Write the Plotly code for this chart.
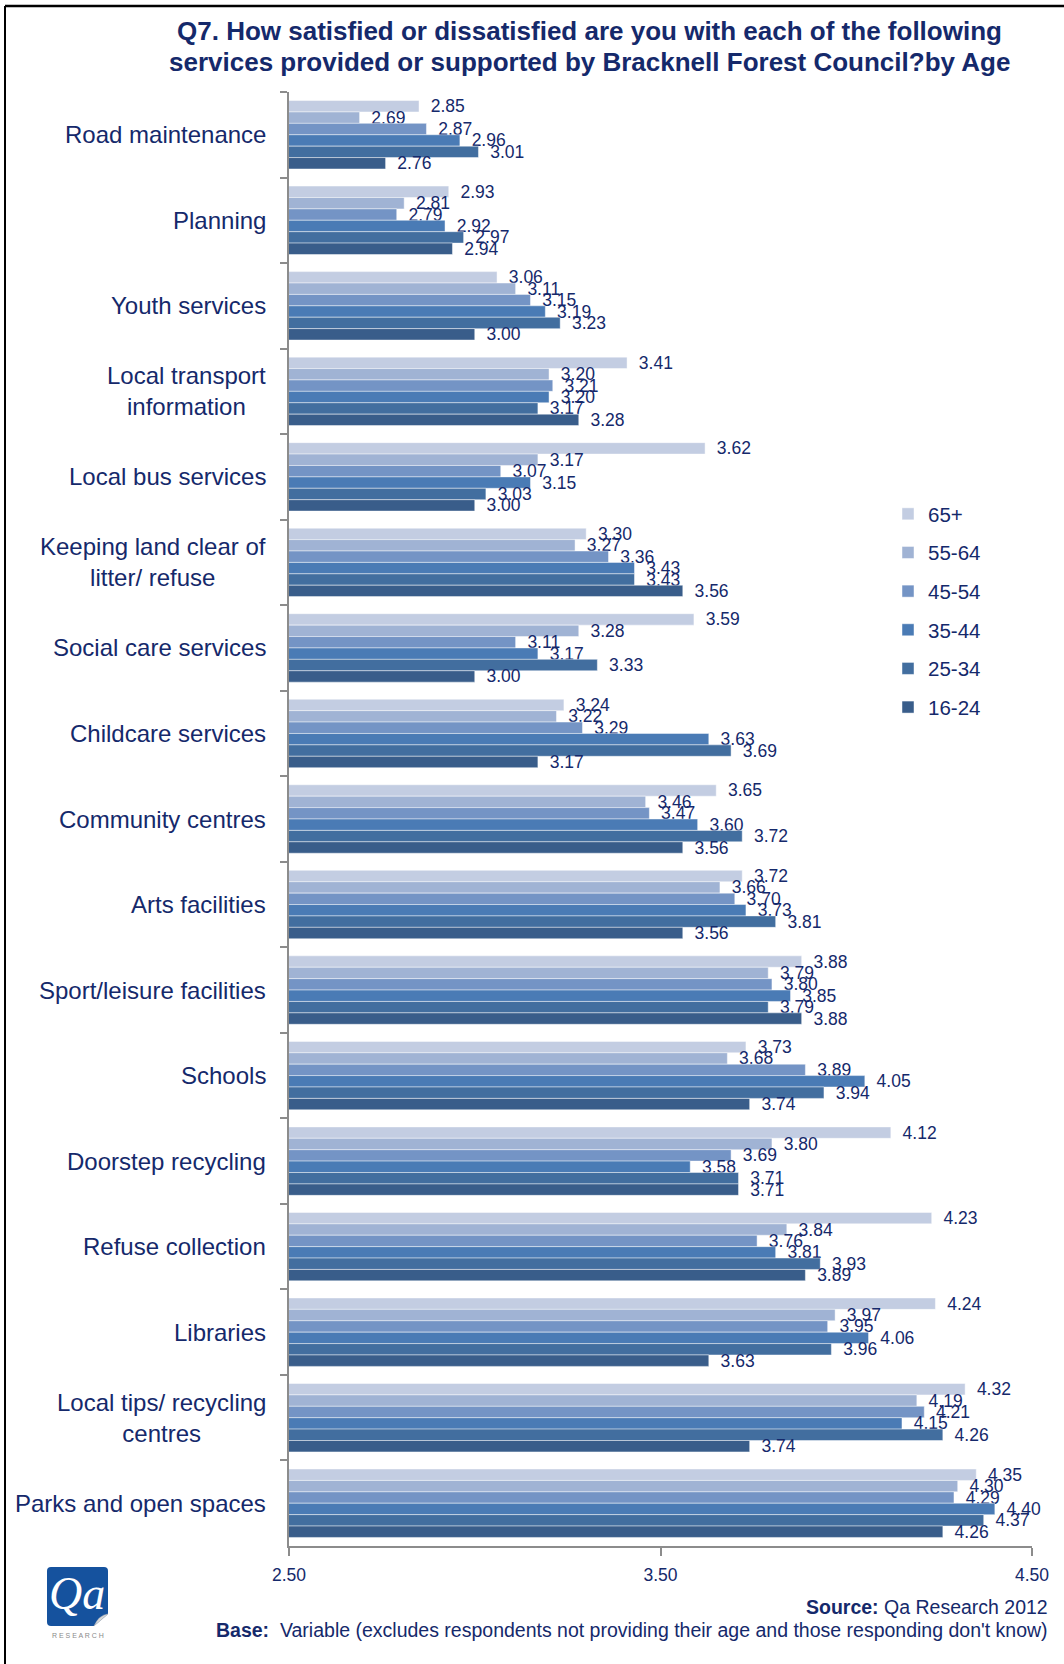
import plotly.graph_objects as go

# Services (top to bottom) and mean satisfaction score by age band
categories = [
    "Road maintenance",
    "Planning",
    "Youth services",
    "Local transport<br>information",
    "Local bus services",
    "Keeping land clear of<br>litter/ refuse",
    "Social care services",
    "Childcare services",
    "Community centres",
    "Arts facilities",
    "Sport/leisure facilities",
    "Schools",
    "Doorstep recycling",
    "Refuse collection",
    "Libraries",
    "Local tips/ recycling<br>centres",
    "Parks and open spaces",
]

age_bands = ["65+", "55-64", "45-54", "35-44", "25-34", "16-24"]

age_65_plus = [2.85, 2.93, 3.06, 3.41, 3.62, 3.30, 3.59, 3.24, 3.65, 3.72, 3.88, 3.73, 4.12, 4.23, 4.24, 4.32, 4.35]
age_55_64 = [2.69, 2.81, 3.11, 3.20, 3.17, 3.27, 3.28, 3.22, 3.46, 3.66, 3.79, 3.68, 3.80, 3.84, 3.97, 4.19, 4.30]
age_45_54 = [2.87, 2.79, 3.15, 3.21, 3.07, 3.36, 3.11, 3.29, 3.47, 3.70, 3.80, 3.89, 3.69, 3.76, 3.95, 4.21, 4.29]
age_35_44 = [2.96, 2.92, 3.19, 3.20, 3.15, 3.43, 3.17, 3.63, 3.60, 3.73, 3.85, 4.05, 3.58, 3.81, 4.06, 4.15, 4.40]
age_25_34 = [3.01, 2.97, 3.23, 3.17, 3.03, 3.43, 3.33, 3.69, 3.72, 3.81, 3.79, 3.94, 3.71, 3.93, 3.96, 4.26, 4.37]
age_16_24 = [2.76, 2.94, 3.00, 3.28, 3.00, 3.56, 3.00, 3.17, 3.56, 3.56, 3.88, 3.74, 3.71, 3.89, 3.63, 3.74, 4.26]

series = [age_65_plus, age_55_64, age_45_54, age_35_44, age_25_34, age_16_24]
colors = ["#C3CDE2", "#A0B3D4", "#7494C5", "#4A7BB5", "#426E9F", "#395D8A"]

x_ticks = [2.5, 3.5, 4.5]
x_tick_text = ["2.50", "3.50", "4.50"]

title_lines = [
    "Q7. How satisfied or dissatisfied are you with each of the following",
    "services provided or supported by Bracknell Forest Council?by Age",
]

NAVY = "#15296B"
SANS = "Liberation Sans, Arial, sans-serif"

W, H = 1064, 1664
ML, MR, MT, MB = 289, 32, 92, 118
X0, X1 = ML, W - MR
Y0, Y1 = MT, H - MB


def paper_x(px):
    return (px - X0) / (X1 - X0)


def paper_y(py):
    return (Y1 - py) / (Y1 - Y0)


fig = go.Figure()
for name, vals, col in zip(age_bands, series, colors):
    fig.add_trace(go.Bar(
        name=name,
        legendgroup=name,
        y=categories,
        x=vals,
        orientation="h",
        marker=dict(color=col, line=dict(color="rgba(255,255,255,0.45)", width=1)),
        text=[f"\u2002{v:.2f}" for v in vals],
        textposition="outside",
        textangle=0,
        constraintext="none",
        cliponaxis=False,
        outsidetextfont=dict(family=SANS, size=17.5, color=NAVY),
    ))

fig.update_layout(
    width=W,
    height=H,
    margin=dict(l=ML, r=MR, t=MT, b=MB, pad=0),
    paper_bgcolor="white",
    plot_bgcolor="white",
    barmode="group",
    bargap=0.2,
    bargroupgap=0,
    showlegend=True,
    legend=dict(
        x=paper_x(888), xanchor="left",
        y=paper_y(494), yanchor="top",
        font=dict(family=SANS, size=20.5, color=NAVY),
        traceorder="grouped",
        tracegroupgap=9,
        itemwidth=30,
        bgcolor="rgba(0,0,0,0)",
    ),
    xaxis=dict(
        range=[2.5, 4.5],
        tickvals=x_ticks,
        ticktext=x_tick_text,
        ticks="outside",
        ticklen=8,
        tickcolor="#8C8C8C",
        tickwidth=1.5,
        showline=True,
        linecolor="#8C8C8C",
        linewidth=1.5,
        showgrid=False,
        zeroline=False,
        tickfont=dict(family=SANS, size=17.5, color=NAVY),
        ticklabelstandoff=4,
    ),
    yaxis=dict(
        categoryorder="array",
        categoryarray=categories,
        autorange="reversed",
        showticklabels=False,
        ticks="outside",
        tickson="boundaries",
        ticklen=7,
        tickcolor="#8C8C8C",
        tickwidth=1.5,
        showline=True,
        linecolor="#8C8C8C",
        linewidth=1.5,
        showgrid=False,
        zeroline=False,
    ),
)

annotations = []

# Category labels, centred lines set flush against the axis
for cat in categories:
    annotations.append(dict(
        xref="paper", yref="y",
        x=paper_x(268), y=cat,
        xanchor="right", yanchor="middle",
        align="center",
        text=cat,
        showarrow=False,
        font=dict(family=SANS, size=24, color=NAVY),
    ))

# Title, one annotation per line to keep the lines close together
for i, line in enumerate(title_lines):
    annotations.append(dict(
        xref="paper", yref="paper",
        x=paper_x(589), y=paper_y(31 + 31 * i),
        xanchor="center", yanchor="middle",
        text=f"<b>{line}</b>",
        showarrow=False,
        font=dict(family=SANS, size=26, color=NAVY),
    ))

# Footer notes
annotations.append(dict(
    xref="paper", yref="paper",
    x=paper_x(1050), y=paper_y(1607),
    xanchor="right", yanchor="middle",
    text="<b>Source:</b> Qa Research 2012",
    showarrow=False,
    font=dict(family=SANS, size=19.5, color=NAVY),
))
annotations.append(dict(
    xref="paper", yref="paper",
    x=paper_x(1050), y=paper_y(1630),
    xanchor="right", yanchor="middle",
    text="<b>Base:</b>  Variable (excludes respondents not providing their age and those responding don't know)",
    showarrow=False,
    font=dict(family=SANS, size=19.5, color=NAVY),
))

# Logo lettering
annotations.append(dict(
    xref="paper", yref="paper",
    x=paper_x(77), y=paper_y(1594),
    xanchor="center", yanchor="middle",
    text="<i>Qa</i>",
    showarrow=False,
    font=dict(family="Liberation Serif, DejaVu Serif, serif", size=46, color="white"),
))
annotations.append(dict(
    xref="paper", yref="paper",
    x=paper_x(78), y=paper_y(1635),
    xanchor="center", yanchor="middle",
    text="R E S E A R C H",
    showarrow=False,
    font=dict(family=SANS, size=7, color="#8A8A8A"),
))

fig.update_layout(annotations=annotations)

shapes = []
# Page frame: top rule and left rule
shapes.append(dict(type="line", xref="paper", yref="paper",
                   x0=paper_x(5), x1=paper_x(W + 5), y0=paper_y(6), y1=paper_y(6),
                   line=dict(color="black", width=2.5)))
shapes.append(dict(type="line", xref="paper", yref="paper",
                   x0=paper_x(5), x1=paper_x(5), y0=paper_y(6), y1=paper_y(H + 5),
                   line=dict(color="black", width=2)))


# Logo tile with rounded corners
def tile_path(l, t, r, b, rad):
    return (f"M {paper_x(l + rad)} {paper_y(t)} L {paper_x(r - rad)} {paper_y(t)} "
            f"Q {paper_x(r)} {paper_y(t)} {paper_x(r)} {paper_y(t + rad)} "
            f"L {paper_x(r)} {paper_y(b - rad - 8)} "
            f"L {paper_x(r - rad - 10)} {paper_y(b)} "
            f"L {paper_x(l + rad)} {paper_y(b)} "
            f"Q {paper_x(l)} {paper_y(b)} {paper_x(l)} {paper_y(b - rad)} "
            f"L {paper_x(l)} {paper_y(t + rad)} "
            f"Q {paper_x(l)} {paper_y(t)} {paper_x(l + rad)} {paper_y(t)} Z")


shapes.append(dict(type="path", xref="paper", yref="paper",
                   path=tile_path(47, 1567, 108, 1626, 4),
                   fillcolor="#15529E", line=dict(width=0), layer="below"))
# Curled corner
shapes.append(dict(type="path", xref="paper", yref="paper",
                   path=(f"M {paper_x(108)} {paper_y(1614)} L {paper_x(94)} {paper_y(1626)} "
                         f"Q {paper_x(99)} {paper_y(1615)} {paper_x(108)} {paper_y(1614)} Z"),
                   fillcolor="#D9D9D9", line=dict(color="#BBBBBB", width=0.5)))

fig.update_layout(shapes=shapes)

fig.write_html("out.html")
